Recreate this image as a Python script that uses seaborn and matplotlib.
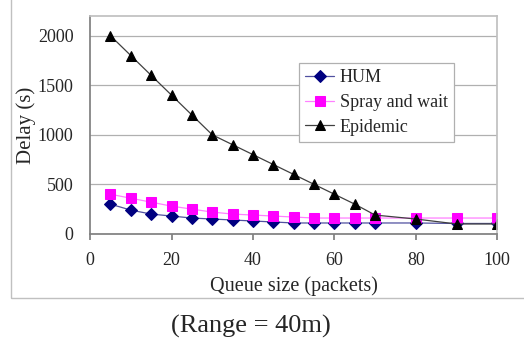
import matplotlib
matplotlib.use("Agg")

import matplotlib.pyplot as plt
import pandas as pd
import seaborn as sns
from matplotlib.patches import Rectangle

# Data
queue_size = [5, 10, 15, 20, 25, 30, 35, 40, 45, 50, 55, 60, 65, 70, 80, 90, 100]
hum_delay = [300, 240, 200, 180, 160, 150, 140, 130, 120, 110, 110, 110, 110, 110, 110, 105, 105]
spray_delay = [400, 360, 320, 280, 250, 220, 200, 190, 180, 170, 160, 160, 160, 160, 160, 160, 160]
epidemic_delay = [2000, 1800, 1600, 1400, 1200, 1000, 900, 800, 700, 600, 500, 400, 300, 190, 150, 100, 100]

x_ticks = [0, 20, 40, 60, 80, 100]
y_ticks = [0, 500, 1000, 1500, 2000]

sns.set_theme(style="white")
plt.rcParams["font.family"] = ["Liberation Serif", "DejaVu Serif"]

fig = plt.figure(figsize=(5.24, 3.47), dpi=100)
ax = fig.add_axes([0.172, 0.326, 0.777, 0.628])

# outer chart frame (only left and bottom edges are visible in the image)
fig.patches.append(Rectangle((0.021, 0.141), 1.2, 1.2, transform=fig.transFigure,
                             fill=False, edgecolor="#c0c0c0", linewidth=1.0))

series = [
    ("HUM", hum_delay, "#000080", "#5050a0", "D", 6),
    ("Spray and wait", spray_delay, "#ff00ff", "#ff80ff", "s", 7),
    ("Epidemic", epidemic_delay, "#000000", "#404040", "^", 7),
]
for name, values, mcolor, lcolor, marker, ms in series:
    df = pd.DataFrame({"queue": queue_size, "delay": values})
    sns.lineplot(data=df, x="queue", y="delay", ax=ax, color=lcolor, linewidth=0.9,
                 marker=marker, markersize=ms, markerfacecolor=mcolor,
                 markeredgecolor=mcolor, label=name)

ax.set_xlim(0, 100)
ax.set_ylim(0, 2200)
ax.set_xticks(x_ticks)
ax.set_yticks(y_ticks)
ax.grid(axis="y", color="#b0b0b0", linewidth=0.9)
ax.set_axisbelow(True)
for side in ["top", "right"]:
    ax.spines[side].set_color("#c0c0c0")
for side in ["left", "bottom"]:
    ax.spines[side].set_color("#808080")
ax.tick_params(axis="x", bottom=True, direction="out", length=4, color="#808080",
               labelsize=13, pad=9)
ax.tick_params(axis="y", left=False, labelsize=13, pad=6)
ax.set_xlabel("Queue size (packets)", fontsize=14.5, labelpad=5)
ax.set_ylabel("Delay (s)", fontsize=15, labelpad=1)

leg = ax.legend(loc="upper left", bbox_to_anchor=(0.513, 0.784), borderaxespad=0,
                fontsize=13, frameon=True, fancybox=False, framealpha=1,
                edgecolor="#b0b0b0", handlelength=1.6, handletextpad=0.3,
                borderpad=0.35, labelspacing=0.42)
leg.get_frame().set_linewidth(0.9)

fig.text(0.478, 0.058, "(Range = 40m)", fontsize=19, ha="center", va="center")

fig.savefig("out.png", dpi=100)
